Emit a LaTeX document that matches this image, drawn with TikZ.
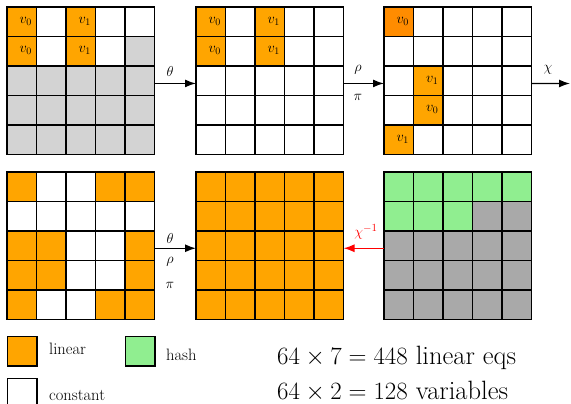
\documentclass[tikz,border=0pt]{standalone}
\usetikzlibrary{arrows.meta}
\definecolor{linc}{HTML}{FFA500}
\definecolor{lindc}{HTML}{FF8C00}
\definecolor{fixc}{HTML}{D3D3D3}
\definecolor{hashc}{HTML}{90EE90}
\definecolor{restc}{HTML}{A9A9A9}
\tikzset{
  cell/.style={draw=black, line width=1.5pt, minimum size=29.5pt, inner sep=0pt, outer sep=0pt},
  lin/.style={cell, fill=linc},
  lind/.style={cell, fill=lindc},
  cst/.style={cell, fill=white},
  fix/.style={cell, fill=fixc},
  hsh/.style={cell, fill=hashc},
  rest/.style={cell, fill=restc},
  var/.style={font=\fontsize{14.5}{17}\selectfont, xshift=4pt, yshift=0.5pt},
  lab/.style={font=\fontsize{15}{17}\selectfont, inner sep=1pt},
  legtext/.style={font=\fontsize{16.5}{19}\selectfont, anchor=west, inner sep=0pt},
  bigtext/.style={font=\fontsize{26.5}{30}\selectfont, anchor=base west, inner sep=0pt},
  flow/.style={-{Latex[length=11pt,width=8pt]}, line width=1.4pt},
}
% #1 name, #2 left x, #3 top y, #4 list of 25 cell styles (row by row)
\newcommand\cellgrid[4]{%
  \foreach \s [count=\i from 0] in {#4}{%
    \pgfmathtruncatemacro\r{\i/5}%
    \pgfmathtruncatemacro\c{\i-5*\r}%
    \node[\s] (#1-\r-\c) at ({#2+29.5*\c+14.75},{#3+29.5*\r+14.75}) {};
  }}
\begin{document}
\begin{tikzpicture}[x=1pt,y=-1pt]
\useasboundingbox (0,0) rectangle (571,404);

% top row of states
\cellgrid{ga}{7}{7}{lin,cst,lin,cst,cst, lin,cst,lin,cst,fix, fix,fix,fix,fix,fix, fix,fix,fix,fix,fix, fix,fix,fix,fix,fix}
\cellgrid{gb}{196}{7}{lin,cst,lin,cst,cst, lin,cst,lin,cst,cst, cst,cst,cst,cst,cst, cst,cst,cst,cst,cst, cst,cst,cst,cst,cst}
\cellgrid{gc}{384}{7}{lind,cst,cst,cst,cst, cst,cst,cst,cst,cst, cst,lin,cst,cst,cst, cst,lin,cst,cst,cst, lin,cst,cst,cst,cst}

% bottom row of states
\cellgrid{gd}{7}{172}{lin,cst,cst,lin,lin, cst,cst,cst,cst,cst, lin,lin,cst,cst,lin, lin,lin,cst,cst,lin, lin,cst,cst,lin,lin}
\cellgrid{ge}{196}{172}{lin,lin,lin,lin,lin, lin,lin,lin,lin,lin, lin,lin,lin,lin,lin, lin,lin,lin,lin,lin, lin,lin,lin,lin,lin}
\cellgrid{gf}{384}{172}{hsh,hsh,hsh,hsh,hsh, hsh,hsh,hsh,rest,rest, rest,rest,rest,rest,rest, rest,rest,rest,rest,rest, rest,rest,rest,rest,rest}

% variable labels
\node[var] (va1) at (ga-0-0) {$v_0$};
\node[var] (va2) at (ga-1-0) {$v_0$};
\node[var] (va3) at (ga-0-2) {$v_1$};
\node[var] (va4) at (ga-1-2) {$v_1$};
\node[var] (vb1) at (gb-0-0) {$v_0$};
\node[var] (vb2) at (gb-1-0) {$v_0$};
\node[var] (vb3) at (gb-0-2) {$v_1$};
\node[var] (vb4) at (gb-1-2) {$v_1$};
\node[var] (vc1) at (gc-0-0) {$v_0$};
\node[var] (vc2) at (gc-2-1) {$v_1$};
\node[var] (vc3) at (gc-3-1) {$v_0$};
\node[var] (vc4) at (gc-4-0) {$v_1$};

% step arrows
\coordinate (chiend) at (570,83.5);
\draw[flow] ([yshift=-2.7pt]ga-2-4.east) -- ([yshift=-2.7pt]gb-2-0.west);
\draw[flow] ([yshift=-2.7pt]gb-2-4.east) -- ([yshift=-2.7pt]gc-2-0.west);
\draw[flow] ([yshift=-2.7pt]gc-2-4.east) -- (chiend);
\draw[flow] ([yshift=-2.5pt]gd-2-4.east) -- ([yshift=-2.5pt]ge-2-0.west);
\draw[flow, red] ([yshift=-2.5pt]gf-2-0.west) -- ([yshift=-2.5pt]ge-2-4.east);

\node[lab] (ta) at (170,72) {$\theta$};
\node[lab] (rb) at (358,70) {$\rho$};
\node[lab] (pb) at (358,97) {$\pi$};
\node[lab] (xc) at (548,70) {$\chi$};
\node[lab] (td) at (170,238) {$\theta$};
\node[lab] (rd) at (170,262) {$\rho$};
\node[lab] (pd) at (170,285) {$\pi$};
\node[lab, red] (xi) at (366,232) {$\chi^{-1}$};

% legend
\node[lin] (kl) at (22,351) {};
\node[hsh] (kh) at (140,351) {};
\node[cst] (kc) at (22,393) {};
\node[legtext] (tl) at (49,349) {linear};
\node[legtext] (th) at (166,355) {hash};
\node[legtext] (tc) at (49,395) {constant};

% counts
\node[bigtext] (eqs) at (277,364.5) {$64\times 7=448$ linear eqs};
\node[bigtext] (vars) at (277,399.5) {$64\times 2=128$ variables};
\end{tikzpicture}
\end{document}
